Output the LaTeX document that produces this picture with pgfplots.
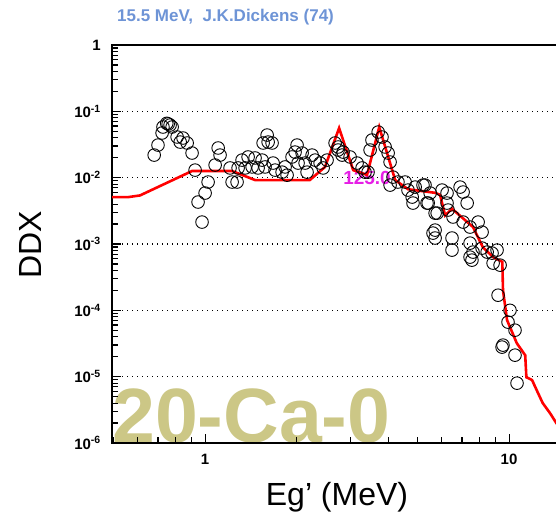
\documentclass[border=0pt]{standalone}
\usepackage{fontspec}
\setmainfont{Liberation Sans}
\usepackage{pgfplots}
\pgfplotsset{compat=1.18}
\definecolor{ttl}{RGB}{110,148,214}
\definecolor{wm}{RGB}{204,199,134}
\definecolor{mag}{RGB}{230,30,230}

\pgfplotstableread{
E DDX
0.748 0.0659
0.727 0.058
0.767 0.0621
0.722 0.0471
0.700 0.031
0.680 0.0219
0.809 0.041
0.846 0.0396
0.828 0.0344
0.873 0.0333
0.906 0.0235
0.927 0.0130
1.023 8.59e-3
1.0 5.86e-3
0.948 4.29e-3
0.977 2.14e-3
1.104 0.028
1.120 0.0219
1.079 0.0155
1.208 0.0140
1.227 8.59e-3
0.779 0.058
0.756 0.0645
1.600 0.0439
1.612 0.0344
1.552 0.0333
1.661 0.0333
1.323 0.0184
1.385 0.0205
1.460 0.0198
1.540 0.0184
1.284 0.0140
1.274 8.59e-3
1.354 0.0140
1.428 0.0145
1.494 0.0140
1.575 0.0145
1.674 0.0166
1.699 0.0130
1.792 0.0121
1.861 0.0109
2.007 0.031
1.977 0.0243
1.932 0.0205
2.085 0.0235
2.022 0.0166
2.133 0.0166
2.249 0.0219
2.301 0.0184
2.390 0.0166
2.445 0.0140
2.519 0.0184
2.677 0.0333
2.739 0.0261
2.823 0.0219
2.165 0.0121
1.833 0.0145
2.739 0.029
2.844 0.0243
2.999 0.0205
3.162 0.0166
3.284 0.0140
3.436 0.0121
3.358 0.0121
3.71 0.0487
3.82 0.041
3.54 0.0369
3.49 0.0261
3.91 0.029
4.00 0.0235
4.06 0.0172
4.15 0.0102
4.06 7.73e-3
4.31 8.59e-3
4.55 8.59e-3
4.65 6.5e-3
4.91 7.21e-3
4.83 4.14e-3
5.29 7.73e-3
5.50 5.86e-3
5.42 4.14e-3
5.71 2.92e-3
6.02 6.5e-3
5.62 1.46e-3
5.71 1.23e-3
4.80 5.1e-3
5.21 7.73e-3
5.37 4.14e-3
5.80 2.92e-3
6.25 5.86e-3
6.25 4.14e-3
6.30 3.25e-3
6.90 7.21e-3
7.06 6.07e-3
7.28 4.14e-3
6.54 2.55e-3
7.06 2.14e-3
7.44 1.8e-3
7.91 2.14e-3
8.15 1.51e-3
5.71 1.62e-3
6.49 1.23e-3
6.49 8.09e-4
7.44 1.03e-3
7.61 7.55e-4
7.44 6.34e-4
8.15 8.67e-4
8.47 7.55e-4
8.79 7.29e-4
9.13 8.09e-4
8.86 5.15e-4
9.34 4.8e-4
7.55 5.71e-4
9.20 1.69e-4
10.07 1.0e-4
9.92 6.64e-5
10.46 5.02e-5
9.48 2.79e-5
9.55 2.99e-5
10.46 2.11e-5
10.62 7.98e-6
}\expdata

\pgfplotstableread{
E DDX
0.49 5.1e-3
0.56 5.1e-3
0.611 5.4e-3
0.906 0.0126
1.227 0.0126
1.46 9.2e-3
2.21 9.2e-3
2.48 0.0145
2.76 0.056
3.07 0.013
3.41 0.011
3.74 0.058
4.22 9.2e-3
4.65 6.7e-3
5.72 5.9e-3
5.93 5.5e-3
6.16 2.7e-3
6.49 3.4e-3
7.61 1.8e-3
8.2 8.9e-4
8.88 6.3e-4
9.5 5.4e-4
9.55 2.0e-4
9.85 7.1e-5
10.6 3.2e-5
11.3 2.1e-5
11.4 9.8e-6
11.9 8.9e-6
12.4 5.9e-6
12.9 4.0e-6
13.65 2.8e-6
14.3 2.0e-6
15 1.5e-6
}\modeldata

\begin{document}
\begin{tikzpicture}
\begin{axis}[
  at={(0pt,0pt)}, anchor=south west,
  scale only axis, width=450.6pt, height=398pt,
  xmode=log, ymode=log,
  xmin=0.494, xmax=15, ymin=1e-6, ymax=1,
  set layers=standard,
  xtick={1,10},
  minor xtick={0.5,0.6,0.7,0.8,0.9,2,3,4,5,6,7,8,9},
  ytick={1e-6,1e-5,1e-4,1e-3,1e-2,1e-1,1},
  yticklabels={10\textsuperscript{-6},10\textsuperscript{-5},10\textsuperscript{-4},10\textsuperscript{-3},10\textsuperscript{-2},10\textsuperscript{-1},1},
  xticklabels={1,10},
  minor ytick={2e-6,3e-6,4e-6,5e-6,6e-6,7e-6,8e-6,9e-6,
    2e-5,3e-5,4e-5,5e-5,6e-5,7e-5,8e-5,9e-5,
    2e-4,3e-4,4e-4,5e-4,6e-4,7e-4,8e-4,9e-4,
    2e-3,3e-3,4e-3,5e-3,6e-3,7e-3,8e-3,9e-3,
    2e-2,3e-2,4e-2,5e-2,6e-2,7e-2,8e-2,9e-2,
    0.2,0.3,0.4,0.5,0.6,0.7,0.8,0.9},
  xtick pos=bottom, ytick pos=left,
  tick align=inside,
  major tick length=9pt, minor tick length=6pt,
  every tick/.style={black, line width=1.1pt},
  axis line style={line width=1.6pt},
  ymajorgrids,
  major grid style={black, line width=1.2pt, dash pattern=on 1.3pt off 3.7pt},
  xticklabel style={font=\bfseries\fontsize{15}{15}\selectfont, inner sep=0pt, anchor=north, yshift=-11pt},
  yticklabel style={font=\bfseries\fontsize{15}{15}\selectfont, inner sep=0pt, anchor=east, xshift=-11pt},
]
\begin{pgfonlayer}{axis background}
\node[anchor=base west, inner sep=0pt, text depth=0pt, text=wm, font=\bfseries\fontsize{77}{77}\selectfont] at (rel axis cs:0,0) {20-Ca-0};
\end{pgfonlayer}
\node[text=mag, inner sep=0pt, font=\bfseries\fontsize{19}{19}\selectfont] at (axis cs:3.41,9.9e-3) {125.0};
\addplot[only marks, mark=o, mark size=6.3pt, mark options={black, line width=0.9pt}] table[x=E,y=DDX] {\expdata};
\addplot[red, line width=2.6pt, no marks] table[x=E,y=DDX] {\modeldata};
\end{axis}
\node[anchor=west, inner sep=0pt, text=ttl, font=\bfseries\fontsize{17}{17}\selectfont] at (5pt,426pt) {15.5 MeV,\ \ J.K.Dickens (74)};
\node[rotate=90, inner sep=0pt, font=\fontsize{32}{32}\selectfont] at (-82pt,198pt) {DDX};
\node[inner sep=0pt, font=\fontsize{32}{32}\selectfont] at (225pt,-54pt) {Eg’ (MeV)};
\pgfresetboundingbox
\path[use as bounding box] (-112pt,-75pt) rectangle (444pt,443pt);
\end{tikzpicture}
\end{document}
